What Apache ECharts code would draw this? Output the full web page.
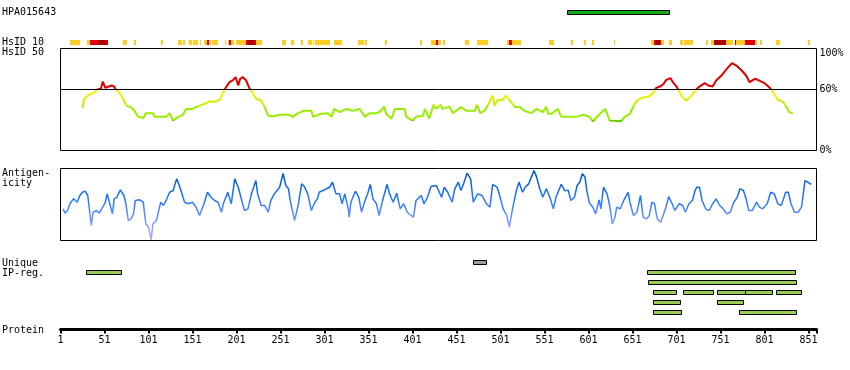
<!DOCTYPE html>
<html><head><meta charset="utf-8">
<script src="https://cdn.jsdelivr.net/npm/echarts@6/dist/echarts.min.js"></script>
<style>html,body{margin:0;padding:0;background:#fff}#c{width:850px;height:370px}</style>
</head><body><div id="c"></div>
<script>
// ---- data (residue positions) ----
const hpaRegion = [[576, 692]];
// [start, end, level] level 1 = gold, 2 = red, 3 = dark red
const hsid10Blocks = [[12,23,1],[31,34,1],[34,45,2],[45,53,3],[53,55.5,2],[72,76,1],[84,87,1],[115,117,1],[135,138.5,1],[140,142,1],[146.5,150,1],[151,156.7,1],[159,161,1],[163.5,167.3,1],[167.3,169.2,2],[169.2,172.3,1],[173,179.4,1],[187.4,189.3,1],[191.6,193,1],[193,195,2],[195,198.7,1],[200,212,1],[212,215,2],[215,220.3,3],[220.3,223.4,2],[223.4,229.4,1],[253,256.7,1],[263.2,265.8,1],[274.5,277.1,1],[281.7,286.2,1],[287.4,288.5,1],[289.8,296.7,1],[297.4,306.8,1],[311.4,320.5,1],[339.6,345.3,1],[346.5,348.7,1],[369.2,371.5,1],[409,411.2,1],[421.5,428,1],[428,430.2,2],[430.2,432.8,1],[435.9,438.2,1],[460.1,464.6,1],[473.7,486.2,1],[508.9,510.4,1],[510.4,514.3,2],[514.3,523.7,1],[555.5,561.2,1],[580.5,582.8,1],[595.3,597.6,1],[604.4,606.7,1],[629.4,630.5,1],[671.5,674.9,1],[674.9,678,2],[678,681.7,3],[681.7,683.6,2],[683.6,686.2,1],[691.9,695.3,1],[705.2,707.8,1],[709,719.2,1],[733.9,737,1],[740.4,743.1,1],[743.1,756.7,3],[756.7,761.3,1],[762,765,1],[766.9,768.8,2],[768.8,779,1],[779,789.6,2],[789.6,792.2,1],[795.3,797.6,1],[813.5,818.8,1],[850.2,852.5,1]];

const hsid50Pos = [26,28,34,40,42,47,49,52,59,62,64,68,72,76,81,85,89,95,98,106,108,114,121,125,129,134,140,144,151,159,165,170,176,182,185,188,193,197,200,203,205,208,212,216,220,223,229,233,237,242,250,261,265,271,278,286,288,297,305,309,312,318,326,333,341,347,352,360,364,369,371,377,381,392,394,401,405,413,415,420,425,428,433,435,443,447,456,462,472,474,478,483,487,492,494,498,504,507,511,517,523,528,536,542,549,553,555,559,566,570,579,587,595,602,606,614,620,625,638,642,648,653,657,663,669,674,678,682,686,689,694,697,701,704,708,712,718,723,727,733,737,742,746,752,758,764,769,775,780,784,790,795,801,807,811,816,822,826,829,833];
const hsid50Val = [42,51,55,57,59.5,60.5,67.6,61.5,63.7,62.7,59.5,57,50.7,44,42.5,39,33.3,31.7,36.6,36.6,33,33,33,36.6,29.4,32.7,35,40.8,40.8,44,45.8,48,47.7,49.7,55.6,60.5,67,69,71.9,63.7,70,72,68.6,60.5,55.6,50.7,49,42.5,34.3,33.3,35,35,33,36.6,39,39,33,36,36.6,33,40.8,37.6,40.8,39,40.8,33,36.6,36.6,38,43,36,31,40.8,40.8,33,29.4,33,34,40.8,31.4,45,40.8,45,40.8,43,36.6,42.5,39,39,45,36.6,39,45,54,44,49.7,49.7,54,49.7,43,42.5,39,36.6,40.8,37.6,43,36,36,40.8,33,33,33,35,33,28.7,36,40.8,29.4,28.7,33,36,45,49.7,52,52.6,56,61.4,62.7,65,69,71,66.7,62.7,58,52,49,54,59.5,62.7,66,63.7,62.7,68.6,73.5,80,85.6,83.3,78.4,73.5,67,70.3,68.6,66,61.4,57,49.7,47.7,42.5,37.6,36.6];

const antigenPos = [4,6,9,12,16,20,23,26,29,32,34,36,38,42,45,49,52,54,57,60,62,65,69,73,75,78,81,84,86,91,95,98,101,104,106,110,113,115,118,121,125,129,133,136,139,142,146,151,155,159,164,168,172,176,180,184,186,191,195,199,203,206,210,214,218,223,225,229,233,237,240,244,250,254,257,260,262,264,267,271,275,278,282,286,290,293,295,303,307,310,314,318,321,324,328,329,331,336,340,343,347,350,353,356,360,363,367,372,375,379,383,387,391,395,398,402,405,411,414,418,422,428,434,437,441,446,449,453,456,459,463,467,470,475,480,485,489,492,497,499,504,508,511,515,519,522,526,529,533,536,539,542,545,549,553,557,561,564,570,574,578,581,585,588,591,594,597,599,602,606,609,613,615,618,622,625,628,631,633,637,641,646,648,652,656,660,663,667,670,673,676,679,683,685,689,692,696,699,704,708,711,715,719,722,724,727,730,734,738,742,746,750,754,758,762,766,770,773,777,780,783,787,792,795,799,804,808,812,816,820,825,828,831,835,839,843,847,850,854];
const antigenVal = [44,38,41.7,51.8,57.9,53.2,62.5,67,68.5,62.5,41.7,20.8,39.3,41.7,38,46.3,53.2,64.8,51,37,57.9,60,70.4,62.5,53.2,27.8,30,37,55.6,56.5,53.2,23,18.5,1,23,27.8,44,53.2,48.6,55.6,67,69.4,85.6,76.4,64.8,53.2,51,53.2,46.3,34.7,51,67,60,55.6,53.2,39.3,51,67,51,85.6,74,60,41.7,44,64.8,83.3,64.8,48.6,48.6,39.3,55.6,64.8,74,93,76.4,71.8,55.6,44,27.8,48.6,78.7,75,64.8,41.7,53.2,57.9,67,71.8,74,81,64.8,64.8,51,64.8,44,32.4,53.2,68.5,60,39.3,55.6,64.8,77.8,57.9,51,34.7,55.6,77.8,64.8,53.2,65.7,44,51,39.3,36.1,32.4,55.6,62.5,51,60,75,76.4,60,74,67,53.2,71.8,81,69.4,78.7,93.5,85.6,53.2,64.8,62.5,51,46.3,77.8,74,67,44,34.7,18.5,46.3,69.4,81,67,74,78.7,88,97.2,88,74,60,71.8,60,44,60,78,69.4,69.4,55.6,60,76.4,81,92.6,88,69.4,51.8,46.3,37,56.5,44,74,64.8,48.6,23,32.4,46.3,44,55.6,67,53.2,34.7,39.3,62.5,32.4,30,34.7,53.2,51,30,25.5,27.8,46.3,61,51,41.7,51,48.6,39.3,51,55.6,69.4,74,74,55.6,44,41.7,51,57.9,48.6,44,37,39.3,53.2,60,71.8,69.4,57.9,41.7,41.7,53.2,46.3,44,51,67,64.8,51,48.6,67,67,51,39.3,39.3,46.3,83.3,81,77.8];

// [start, end, row, kind] kind 0 = grey, 1 = green
const ipRegions = [[470,485,0,0],[30,70,1,1],[667,836,1,1],[668,837,2,1],[674,700,3,1],[708,742,3,1],[747,779,3,1],[779,810,3,1],[814,842,3,1],[674,705,4,1],[747,776,4,1],[674,706,5,1],[772,837,5,1]];
const ipRows = ['r0','r1','r2','r3','r4','r5'];

// ---- chart ----
const FONT = '"DejaVu Sans Mono", monospace';
const L = 60.5, W = 756;
const levelColor = {1:'#ffcc22', 2:'#dd0000', 3:'#aa0000'};
const grids = [
  {left:L, width:W, top:10.5, height:4},
  {left:L, width:W, top:40, height:5},
  {left:L, width:W, top:48.5, height:102, show:true, borderColor:'#000', borderWidth:1},
  {left:L, width:W, top:168.5, height:72, show:true, borderColor:'#000', borderWidth:1},
  {left:L, width:W, top:257.5, height:60},
  {left:L, width:W, top:300, height:29.5}
];
const xAxes = [0,1,2,3,4].map(i => ({type:'value', gridIndex:i, min:1, max:860, show:false}));
xAxes.push({type:'value', gridIndex:5, min:0, max:859, interval:50,
  axisLine:{show:true, lineStyle:{color:'#000', width:3}},
  axisTick:{show:true, length:4, lineStyle:{color:'#000', width:2}},
  splitLine:{show:false},
  axisLabel:{show:true, margin:6, color:'#000', fontFamily:FONT, fontSize:10,
    formatter: v => (v % 50 === 0 ? String(v + 1) : '')}
});
const yAxes = [
  {type:'value', gridIndex:0, min:0, max:1, show:false},
  {type:'value', gridIndex:1, min:0, max:1, show:false},
  {type:'value', gridIndex:2, min:0, max:100, interval:20, position:'right',
    axisLine:{show:false}, axisTick:{show:false}, splitLine:{show:false},
    axisLabel:{show:true, margin:3, color:'#000', fontFamily:FONT, fontSize:10,
      verticalAlignMaxLabel:'top',
      formatter: v => (v === 0 ? '0%' : v === 60 ? '60%' : v === 100 ? '100%' : '')}},
  {type:'value', gridIndex:3, min:0, max:100, show:false},
  {type:'category', gridIndex:4, data:ipRows, inverse:true, show:false},
  {type:'value', gridIndex:5, min:0, max:1, show:false}
];

function rectRender(fillFn, stroke) {
  return function (params, api) {
    const a = api.coord([api.value(0), 1]);
    const b = api.coord([api.value(1), 0]);
    const x0 = Math.round(a[0]), x1 = Math.round(b[0]);
    return {type:'rect', shape:{x:x0 + (stroke ? 0.5 : 0), y:a[1], width:Math.max(1, x1 - x0), height:b[1] - a[1]},
      style:{fill:fillFn(api), stroke: stroke ? '#000' : null, lineWidth: stroke ? 1 : 0}};
  };
}

const option = {
  animation:false,
  backgroundColor:'#fff',
  grid:grids, xAxis:xAxes, yAxis:yAxes,
  visualMap:[
    {type:'piecewise', show:false, seriesIndex:2, dimension:1,
     pieces:[{lt:30, color:'#66cc00'},{gte:30, lt:44, color:'#99ee00'},{gte:44, lt:50, color:'#ccee00'},{gte:50, lt:60, color:'#f0f000'},{gte:60, color:'#dd0000'}]},
    {type:'continuous', show:false, seriesIndex:3, dimension:1, min:0, max:100,
     inRange:{color:['#b4aaff','#8c9cff','#4d88ff','#1f74ff','#0a62e0','#0050a8']}}
  ],
  series:[
    {type:'custom', xAxisIndex:0, yAxisIndex:0, data:hpaRegion, encode:{x:[0,1]},
      renderItem: rectRender(() => '#11aa11', true)},
    {type:'custom', xAxisIndex:1, yAxisIndex:1, data:hsid10Blocks, encode:{x:[0,1]},
      renderItem: rectRender(api => levelColor[api.value(2)], false)},
    {type:'line', xAxisIndex:2, yAxisIndex:2, showSymbol:false, lineStyle:{width:2},
      data: hsid50Pos.map((p, i) => [p, hsid50Val[i]]),
      markLine:{silent:true, symbol:'none', label:{show:false}, lineStyle:{color:'#000', width:1, type:'solid'}, data:[{yAxis:60}]}},
    {type:'line', xAxisIndex:3, yAxisIndex:3, showSymbol:false, lineStyle:{width:1.5},
      data: antigenPos.map((p, i) => [p, antigenVal[i]])},
    {type:'custom', xAxisIndex:4, yAxisIndex:4, data:ipRegions, encode:{x:[0,1], y:2},
      renderItem: function (params, api) {
        const a = api.coord([api.value(0), api.value(2)]);
        const b = api.coord([api.value(1), api.value(2)]);
        const x0 = Math.round(a[0]), x1 = Math.round(b[0]);
        return {type:'rect', shape:{x:x0 + 0.5, y:a[1] - 2, width:x1 - x0, height:4},
          style:{fill: api.value(3) === 0 ? '#999999' : '#99cc55', stroke:'#000', lineWidth:1}};
      }},
    {type:'line', xAxisIndex:5, yAxisIndex:5, data:[]}
  ],
  graphic:[
    ['HPA015643', 12.5], ['HsID 10', 42], ['HsID 50', 52.5], ['Antigen-', 173], ['icity', 183],
    ['Unique', 263], ['IP-reg.', 273], ['Protein', 330]
  ].map(t => ({type:'text', x:2, y:t[1], silent:true,
    style:{text:t[0], font:'10px ' + FONT, fill:'#000', verticalAlign:'middle'}}))
};
echarts.init(document.getElementById('c'), null, {renderer:'canvas'}).setOption(option);
</script>
</body></html>
